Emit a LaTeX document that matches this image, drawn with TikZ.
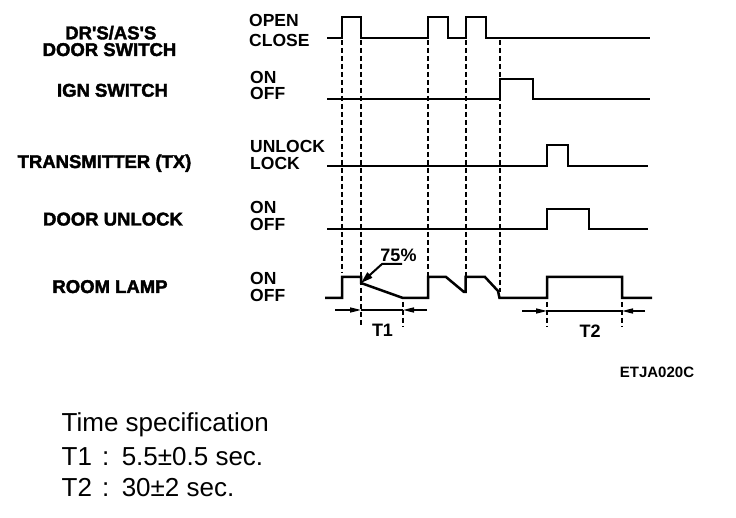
\documentclass[tikz,border=0pt]{standalone}
\usepackage{fontspec}
\setmainfont{Liberation Sans}
\newfontfamily\heavyfont{Liberation Sans}[UprightFont={* Bold}, FakeBold=2]
\usetikzlibrary{arrows.meta}
\begin{document}
\begin{tikzpicture}[x=1pt,y=-1pt,
  wave/.style={line width=2.5pt, line join=miter},
  guide/.style={line width=1.3pt, dash pattern=on 5pt off 3pt},
  dimline/.style={line width=1.3pt},
  dimtip/.style={-{Triangle[length=11pt,width=5pt]}},
  leadtip/.style={line width=2pt,-{Triangle[length=12pt,width=7pt]}},
  sig/.style={font=\fontsize{18.5}{20}\heavyfont, inner sep=0pt, anchor=base},
  state/.style={font=\fontsize{17.5}{19}\selectfont\bfseries, inner sep=0pt, anchor=base west},
  small/.style={font=\fontsize{18}{20}\selectfont\bfseries, inner sep=0pt, anchor=base},
  spec/.style={font=\fontsize{26}{28}\selectfont, inner sep=0pt, anchor=base west},
  ]
\useasboundingbox[fill=white] (0,0) rectangle (736,518);

% signal names
\node[sig] (n1a) at (110.8,39.3) {DR\textquotesingle S/AS\textquotesingle S};
\node[sig] (n1b) at (109.5,56) {DOOR SWITCH};
\node[sig] (n2) at (112.5,96.7) {IGN SWITCH};
\node[sig] (n3) at (104.5,168) {TRANSMITTER (TX)};
\node[sig] (n4) at (113,225.5) {DOOR UNLOCK};
\node[sig] (n5) at (110,293) {ROOM LAMP};

% state names
\node[state] (s1a) at (249,26.5) {OPEN};
\node[state] (s1b) at (249,47) {CLOSE};
\node[state] (s2a) at (250,83.3) {ON};
\node[state] (s2b) at (250,99.3) {OFF};
\node[state] (s3a) at (250,152.5) {UNLOCK};
\node[state] (s3b) at (250,170) {LOCK};
\node[state] (s4a) at (250,213.3) {ON};
\node[state] (s4b) at (250,230.5) {OFF};
\node[state] (s5a) at (250,284.5) {ON};
\node[state] (s5b) at (250,302) {OFF};

% guide lines
\draw[guide] (342,40) -- (342,273);
\draw[guide] (361,40) -- (361,327);
\draw[guide] (428,40) -- (428,277);
\draw[guide] (466,40) -- (466,277);
\draw[guide] (500,40) -- (500,292);
\draw[guide] (403,302) -- (403,327);
\draw[guide] (547,302) -- (547,327);
\draw[guide] (622,302) -- (622,327);

% waveforms
\draw[wave] (327,38) -- (342,38) -- (342,17) -- (361,17) -- (361,38) -- (428,38) -- (428,17) -- (448,17) -- (448,38) -- (466,38) -- (466,17) -- (486,17) -- (486,38) -- (650,38);
\draw[wave] (327,99) -- (500,99) -- (500,79) -- (533,79) -- (533,99) -- (650,99);
\draw[wave] (327,166) -- (547,166) -- (547,145) -- (568,145) -- (568,166) -- (648,166);
\draw[wave] (327,229) -- (547,229) -- (547,209) -- (589,209) -- (589,229) -- (648,229);
\draw[wave] (325,298) -- (342,298) -- (342,277) -- (361,277) -- (361,283) -- (403,298) -- (428,298) -- (428,277) -- (446,277) -- (464,292) -- (465.5,292) -- (465.5,277) -- (485,277) -- (498,291) -- (499.5,298) -- (547,298) -- (547,277) -- (622,277) -- (622,298) -- (652,298);

% 75% leader
\coordinate (l0) at (402,264);
\coordinate (l1) at (382,264);
\coordinate (l2) at (361,283);
\draw[leadtip] (l0) -- (l1) -- (l2);
\node[small] (p75) at (398.5,261.5) {75\%};

% T1 dimension
\coordinate (a0) at (335,310);
\coordinate (a1) at (361,310);
\coordinate (a2) at (403,310);
\coordinate (a3) at (427,310);
\draw[dimline] (a1) -- (a2);
\draw[dimline,dimtip] (a0) -- (a1);
\draw[dimline,dimtip] (a3) -- (a2);
\node[small] (t1) at (382.5,336.5) {T1};

% T2 dimension
\coordinate (b0) at (522,311);
\coordinate (b1) at (547,311);
\coordinate (b2) at (622,311);
\coordinate (b3) at (645,311);
\draw[dimline] (b1) -- (b2);
\draw[dimline,dimtip] (b0) -- (b1);
\draw[dimline,dimtip] (b3) -- (b2);
\node[small] (t2) at (590,338) {T2};

% figure code
\node[font=\fontsize{15}{16}\selectfont\bfseries, inner sep=0pt, anchor=base] (code) at (657,377.3) {ETJA020C};

% specification
\node[spec] (sp0) at (61.5,431.7) {Time specification};
\node[spec] (sp1) at (61.5,465) {T1\hspace{10pt}:\hspace{12.5pt}5.5±0.5 sec.};
\node[spec] (sp2) at (61.5,496.7) {T2\hspace{10pt}:\hspace{12.5pt}30±2 sec.};
\end{tikzpicture}
\end{document}
